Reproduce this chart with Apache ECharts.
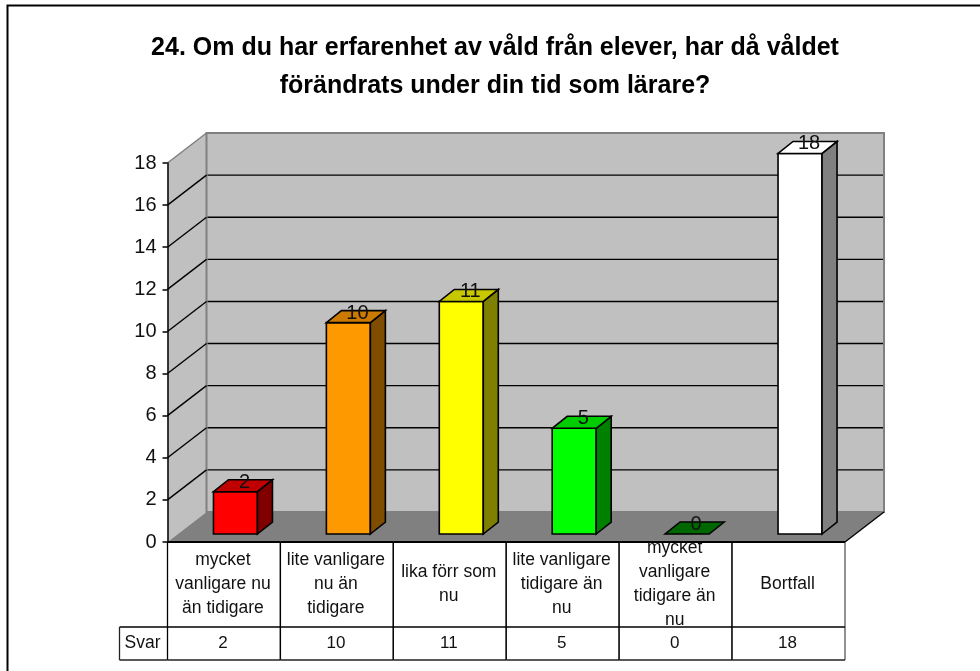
<!DOCTYPE html>
<html><head><meta charset="utf-8">
<style>html,body{margin:0;padding:0;background:#fff}#c{width:980px;height:671px}</style>
<script src="https://cdn.jsdelivr.net/npm/echarts@6/dist/echarts.min.js"></script>
</head><body><div id="c"></div>
<script>
const titleText = "24. Om du har erfarenhet av våld från elever, har då våldet\nförändrats under din tid som lärare?";
const categories = ["mycket\nvanligare nu\nän tidigare","lite vanligare\nnu än\ntidigare","lika förr som\nnu","lite vanligare\ntidigare än\nnu","mycket\nvanligare\ntidigare än\nnu","Bortfall"];
const seriesName = "Svar";
const values = [2,10,11,5,0,18];
const yTicks = [2,4,6,8,10,12,14,16,18];
const faceColors = ["#ff0000","#ff9900","#ffff00","#00ff00","#008000","#ffffff"];
const topColors = ["#c00000","#cc7a00","#c8c800","#00cc00","#006600","#ffffff"];
const sideColors = ["#800000","#804d00","#808000","#008000","#004000","#808080"];

const WALL_DX = 39, WALL_DY = -30, BAR_DX = 15, BAR_DY = -12;
const FONT = '"Liberation Sans", Arial, sans-serif';

function poly(points, fill, stroke, lw) {
  return {type:'polygon', shape:{points}, style:{fill, stroke, lineWidth:lw, lineJoin:'miter'}};
}
function seg(x1,y1,x2,y2,stroke,lw) {
  return {type:'line', shape:{x1,y1,x2,y2}, style:{stroke, lineWidth:lw, fill:null}};
}
function bounds(api) {
  const band = api.size([1,0])[0];
  const c0 = api.coord([0,0]);
  const c5 = api.coord([categories.length-1,0]);
  const top = api.coord([0,18])[1];
  return {band, x0:c0[0]-band/2, x1:c5[0]+band/2, y0:c0[1], yTop:top};
}

const wallsRender = (p, api) => {
  const b = bounds(api);
  return {type:'group', children:[
    poly([[b.x0,b.y0],[b.x0+WALL_DX,b.y0+WALL_DY],[b.x0+WALL_DX,b.yTop+WALL_DY],[b.x0,b.yTop]],'#c0c0c0',null,0),
    poly([[b.x0+WALL_DX,b.y0+WALL_DY],[b.x1+WALL_DX,b.y0+WALL_DY],[b.x1+WALL_DX,b.yTop+WALL_DY],[b.x0+WALL_DX,b.yTop+WALL_DY]],'#c0c0c0','#808080',2),
    seg(b.x0,b.yTop,b.x0+WALL_DX,b.yTop+WALL_DY,'#808080',1.5),
    poly([[b.x0,b.y0],[b.x1,b.y0],[b.x1+WALL_DX,b.y0+WALL_DY],[b.x0+WALL_DX,b.y0+WALL_DY]],'#808080',null,0),
    seg(b.x1,b.y0,b.x1+WALL_DX,b.y0+WALL_DY,'#000',1.3)
  ]};
};
const gridRender = (p, api) => {
  const b = bounds(api);
  const y = api.coord([0,api.value(0)])[1];
  const v = api.value(0);
  if (v >= 18) return {type:'group',children:[]};
  return {type:'group', children:[
    seg(b.x0,y,b.x0+WALL_DX,y+WALL_DY,'#000',1.4),
    seg(b.x0+WALL_DX+1,y+WALL_DY,b.x1+WALL_DX-1,y+WALL_DY,'#000',1.4)
  ]};
};
const barRender = (p, api) => {
  const i = api.value(0), v = api.value(1);
  const b = bounds(api);
  const c = api.coord([i,0])[0];
  const l = c - 10.5, r = l + 44;
  const bot = b.y0 - 8;
  const t = bot - (b.y0 - api.coord([i,v])[1]) * 1.004;
  const k = p.dataIndex;
  const ch = [];
  if (v > 0) {
    ch.push(poly([[l,bot],[r,bot],[r,t],[l,t]],faceColors[k],'#000',1.6));
    ch.push(poly([[r,bot],[r+BAR_DX,bot+BAR_DY],[r+BAR_DX,t+BAR_DY],[r,t]],sideColors[k],'#000',1.6));
  }
  ch.push(poly([[l,t],[r,t],[r+BAR_DX,t+BAR_DY],[l+BAR_DX,t+BAR_DY]],topColors[k],'#000',1.6));
  ch.push({type:'text', style:{x:(l+r)/2+9, y:t-9.5, text:String(v), fill:'#111', font:'20px '+FONT, textAlign:'center', textVerticalAlign:'middle'}});
  return {type:'group', children:ch};
};
const tableRender = (p, api) => {
  const i = api.value(0);
  const b = bounds(api);
  const l = b.x0 + i*b.band, r = l + b.band;
  const top = b.y0, mid = top + 85, bot = top + 118;
  const ch = [
    {type:'rect', shape:{x:l,y:top,width:b.band,height:bot-top}, style:{fill:'#fff'}},
    seg(l,top,l,bot,'#000',1.3),
    seg(r,top,r,bot,i===categories.length-1?'#555':'#000',1.3),
    seg(l,mid,r,mid,'#000',1.3),
    seg(l,bot,r,bot,'#222',1.6),
    seg(l,top,r,top,'#000',2),
    {type:'group', clipPath:{type:'rect',shape:{x:l,y:top+1,width:b.band,height:mid-top-1}},
     children:[{type:'text', style:{x:(l+r)/2-1, y:(top+mid)/2, text:categories[i], fill:'#111', font:'17.5px '+FONT, lineHeight:24, textAlign:'center', textVerticalAlign:'middle'}}]},
    {type:'text', style:{x:(l+r)/2-1, y:(mid+bot)/2, text:String(values[i]), fill:'#111', font:'17px '+FONT, textAlign:'center', textVerticalAlign:'middle'}}
  ];
  if (i === 0) {
    const sl = l - 48;
    ch.push(seg(sl,mid,l,mid,'#000',1.3), seg(sl,bot,l,bot,'#222',1.6), seg(sl,mid,sl,bot,'#222',1.3));
    ch.push({type:'text', style:{x:(sl+l)/2-1, y:(mid+bot)/2, text:seriesName, fill:'#111', font:'17.5px '+FONT, textAlign:'center', textVerticalAlign:'middle'}});
  }
  return {type:'group', children:ch};
};

const chart = echarts.init(document.getElementById('c'), null, {renderer:'canvas'});
chart.setOption({
  animation:false,
  backgroundColor:'#fff',
  title:{text:titleText, left:490, top:24, textAlign:'center',
    textStyle:{fontFamily:FONT, fontWeight:'bold', fontSize:25, lineHeight:38, color:'#000'}},
  graphic:[{type:'polyline', shape:{points:[[980,5.5],[7.5,5.5],[7.5,671]]}, style:{stroke:'#000',lineWidth:2,fill:null}}],
  grid:{left:167.5, right:135, top:163, bottom:129, containLabel:false},
  xAxis:{type:'category', data:categories, show:false},
  yAxis:{type:'value', min:0, max:18, interval:2, z:10,
    axisLine:{show:true,lineStyle:{color:'#000',width:1.5}},
    axisTick:{show:true,length:5,lineStyle:{color:'#000',width:1.5}},
    axisLabel:{margin:11,color:'#111',fontFamily:FONT,fontSize:20},
    splitLine:{show:false}},
  series:[
    {type:'custom', z:1, renderItem:wallsRender, data:[[0]], encode:{x:0}, silent:true},
    {type:'custom', z:2, renderItem:gridRender, data:yTicks.map(v=>[v]), silent:true},
    {type:'custom', z:3, renderItem:tableRender, data:categories.map((c,i)=>[i]), encode:{x:0}, silent:true},
    {type:'custom', z:4, name:seriesName, renderItem:barRender, data:values.map((v,i)=>[i,v]), encode:{x:0,y:1}, silent:true}
  ]
});
</script></body></html>
